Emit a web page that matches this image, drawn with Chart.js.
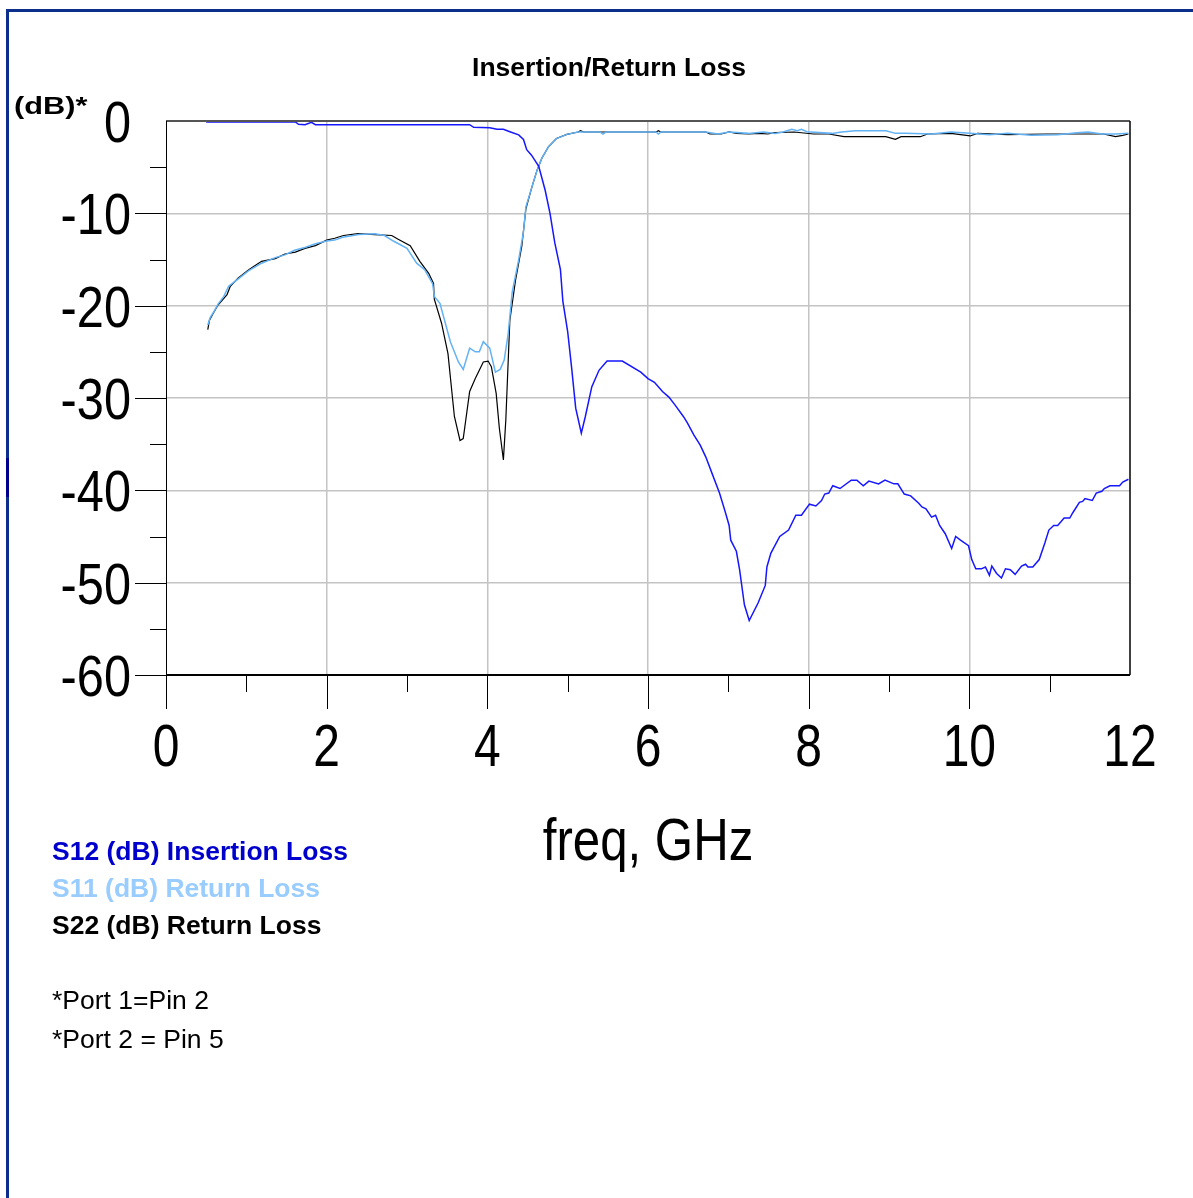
<!DOCTYPE html>
<html lang="en">
<head>
  <meta charset="UTF-8">
  <title>Insertion/Return Loss</title>
  <style>
    body {
      margin: 0;
      background: #fff;
      font-family: "Liberation Sans", Arial, sans-serif;
    }
    #page {
      position: relative;
      width: 1193px;
      height: 1198px;
      overflow: hidden;
    }
    #frame {
      position: absolute;
      left: 6px;
      top: 9px;
      right: -10px;
      bottom: -10px;
      border-left: 3px solid #0c2f8c;
      border-top: 3px solid #0c2f8c;
    }
    #mark {
      position: absolute;
      left: 6px;
      top: 458px;
      width: 3px;
      height: 39px;
      background: #00008f;
    }
    #chartbox {
      position: absolute;
      left: 0;
      top: 0;
      width: 1193px;
      height: 1198px;
    }
    .txt {
      position: absolute;
      font-size: 26.5px;
      line-height: 1;
      white-space: nowrap;
    }
    .b { font-weight: bold; }
  </style>
</head>
<body>
  <div id="page">
    <div id="frame"></div>
    <div id="mark"></div>
    <div id="chartbox"><canvas id="myChart"></canvas></div>
    <div class="txt b" style="left:609px; top:54px; transform:translateX(-50%);">Insertion/Return Loss</div>
    <div class="txt b" style="left:14px; top:94px; font-size:24px; transform:scaleX(1.28); transform-origin:left top;">(dB)*</div>
    <div class="txt b" style="left:52px; top:838px; color:#0000cc;">S12 (dB) Insertion Loss</div>
    <div class="txt b" style="left:52px; top:875px; color:#99ccff;">S11 (dB) Return Loss</div>
    <div class="txt b" style="left:52px; top:912px; color:#000;">S22 (dB) Return Loss</div>
    <div class="txt" style="left:52px; top:987px;">*Port 1=Pin 2</div>
    <div class="txt" style="left:52px; top:1026px;">*Port 2 = Pin 5</div>
  </div>

  <script src="https://cdn.jsdelivr.net/npm/chart.js"></script>
  <script>
// S12 insertion loss (GHz, dB)
const s12Freq = [
  0.50, 1.61, 1.65, 1.73, 1.81, 1.86, 3.78, 3.83, 4.03, 4.12,
  4.20, 4.28, 4.39, 4.45, 4.49, 4.55, 4.64, 4.72, 4.78, 4.84,
  4.91, 4.94, 5.00, 5.05, 5.10, 5.17, 5.22, 5.30, 5.39, 5.49,
  5.68, 5.91, 6.00, 6.08, 6.18, 6.26, 6.34, 6.44, 6.49, 6.57,
  6.65, 6.72, 6.79, 6.89, 6.96, 7.01, 7.03, 7.10, 7.14, 7.20,
  7.26, 7.37, 7.46, 7.48, 7.53, 7.64, 7.75, 7.84, 7.91, 8.01,
  8.09, 8.16, 8.20, 8.25, 8.30, 8.39, 8.53, 8.60, 8.68, 8.75,
  8.87, 8.95, 9.06, 9.11, 9.19, 9.27, 9.37, 9.41, 9.46, 9.53,
  9.58, 9.63, 9.70, 9.78, 9.83, 9.89, 9.99, 10.03, 10.08, 10.15,
  10.20, 10.25, 10.28, 10.34, 10.40, 10.45, 10.51, 10.57, 10.65, 10.70,
  10.73, 10.79, 10.87, 10.94, 10.99, 11.05, 11.10, 11.18, 11.25, 11.29,
  11.37, 11.41, 11.44, 11.53, 11.58, 11.65, 11.68, 11.75, 11.87, 11.91,
  11.98
];
const s12dB = [
  -0.1, -0.1, -0.36, -0.4, -0.15, -0.4, -0.4, -0.68, -0.72, -0.9,
  -0.9, -1.16, -1.5, -2.0, -3.1, -3.7, -4.9, -7.5, -10.0, -13.2,
  -16.1, -19.5, -22.8, -26.8, -31.1, -33.8, -32.0, -28.8, -27.0, -26.0,
  -26.0, -27.2, -27.9, -28.3, -29.3, -29.9, -30.8, -32.0, -32.7, -34.0,
  -35.1, -36.4, -38.0, -40.3, -42.3, -43.8, -45.4, -46.6, -48.6, -52.4,
  -54.1, -52.2, -50.3, -48.3, -46.8, -45.0, -44.3, -42.7, -42.7, -41.5,
  -41.7, -41.1, -40.4, -40.3, -39.5, -39.8, -38.9, -38.9, -39.5, -39.0,
  -39.3, -38.9, -39.3, -39.3, -40.4, -40.6, -41.4, -41.8, -42.0, -42.9,
  -42.7, -43.8, -44.7, -46.3, -45.0, -45.4, -46.0, -47.5, -48.5, -48.5,
  -48.3, -49.2, -48.2, -49.0, -49.5, -48.5, -48.6, -49.1, -48.2, -48.0,
  -48.3, -48.3, -47.5, -45.7, -44.3, -43.8, -43.8, -43.0, -43.0, -42.4,
  -41.3, -41.2, -40.9, -41.1, -40.3, -40.1, -39.8, -39.5, -39.5, -39.1,
  -38.8
];

// S11 return loss
const s11Freq = [
  0.52, 0.55, 0.60, 0.65, 0.72, 0.78, 0.90, 1.03, 1.19, 1.36,
  1.48, 1.60, 1.73, 1.86, 2.00, 2.10, 2.20, 2.40, 2.60, 2.72,
  2.83, 3.00, 3.12, 3.22, 3.32, 3.34, 3.41, 3.54, 3.64, 3.70,
  3.78, 3.85, 3.90, 3.95, 4.03, 4.10, 4.16, 4.21, 4.26, 4.31,
  4.39, 4.45, 4.48, 4.55, 4.62, 4.68, 4.76, 4.86, 4.99, 5.13,
  5.40, 5.44, 5.48, 6.10, 6.13, 6.16, 6.72, 6.87, 7.01, 7.25,
  7.44, 7.58, 7.68, 7.79, 7.86, 7.91, 7.98, 8.29, 8.41, 8.58,
  8.96, 9.08, 9.20, 9.53, 9.77, 10.01, 10.25, 10.48, 10.77, 11.10,
  11.34, 11.48, 11.65, 11.82, 11.98
];
const s11dB = [
  -22.1, -21.3, -20.6, -19.8, -19.0, -17.9, -17.1, -16.2, -15.4, -14.8,
  -14.5, -14.0, -13.7, -13.3, -13.0, -12.9, -12.6, -12.3, -12.2, -12.4,
  -13.0, -13.8, -15.4, -16.1, -17.65, -19.0, -19.75, -23.9, -26.1, -26.9,
  -24.6, -25.0, -25.0, -23.9, -24.6, -27.2, -26.9, -25.9, -23.0, -18.5,
  -15.05, -12.0, -9.3, -7.3, -5.3, -4.0, -2.8, -1.9, -1.45, -1.19,
  -1.19, -1.41, -1.19, -1.19, -1.41, -1.19, -1.19, -1.41, -1.19, -1.34,
  -1.19, -1.34, -1.19, -0.90, -1.05, -0.90, -1.16, -1.34, -1.19, -1.05,
  -1.05, -1.34, -1.34, -1.41, -1.19, -1.34, -1.48, -1.34, -1.55, -1.48,
  -1.26, -1.19, -1.41, -1.41, -1.34
];

// S22 return loss
const s22Freq = [
  0.52, 0.54, 0.59, 0.65, 0.76, 0.80, 0.90, 1.03, 1.19, 1.36,
  1.48, 1.61, 1.73, 1.86, 2.00, 2.10, 2.21, 2.39, 2.60, 2.81,
  2.89, 3.04, 3.16, 3.27, 3.33, 3.34, 3.43, 3.51, 3.59, 3.66,
  3.70, 3.78, 3.85, 3.95, 4.01, 4.05, 4.11, 4.15, 4.20, 4.23,
  4.28, 4.35, 4.43, 4.48, 4.55, 4.62, 4.68, 4.76, 4.86, 4.99,
  5.13, 5.16, 5.20, 6.10, 6.13, 6.16, 6.72, 6.77, 6.91, 7.01,
  7.10, 7.25, 7.39, 7.49, 7.58, 7.82, 8.06, 8.25, 8.44, 8.96,
  9.08, 9.15, 9.39, 9.48, 9.77, 10.01, 10.10, 10.48, 10.96, 11.20,
  11.67, 11.82, 11.91, 11.98
];
const s22dB = [
  -22.6, -21.6, -20.8, -19.9, -18.8, -17.9, -17.0, -16.1, -15.2, -14.9,
  -14.4, -14.2, -13.8, -13.5, -12.9, -12.7, -12.4, -12.2, -12.3, -12.4,
  -12.8, -13.5, -15.2, -16.5, -17.6, -19.3, -21.9, -25.2, -32.0, -34.6,
  -34.4, -29.3, -27.9, -26.1, -26.0, -26.6, -29.5, -33.3, -36.7, -32.4,
  -21.6, -17.3, -13.5, -9.5, -7.3, -5.3, -4.0, -2.8, -1.9, -1.45,
  -1.19, -1.05, -1.19, -1.19, -1.05, -1.19, -1.19, -1.41, -1.41, -1.19,
  -1.34, -1.41, -1.34, -1.41, -1.26, -1.19, -1.41, -1.41, -1.70, -1.70,
  -1.99, -1.70, -1.70, -1.41, -1.34, -1.62, -1.34, -1.48, -1.41, -1.41,
  -1.41, -1.70, -1.55, -1.41
];

const seriesNames = ['S12 (dB) Insertion Loss', 'S11 (dB) Return Loss', 'S22 (dB) Return Loss'];
const xTitle = 'freq, GHz';

const labelFont = '"Liberation Sans", Arial, sans-serif';

function toPoints(freq, vals) {
  return freq.map((f, i) => ({ x: f, y: vals[i] }));
}

// ticks (major with label, minor without) and the plot box
const axisFrame = {
  id: 'axisFrame',
  afterDatasetsDraw(chart) {
    const { ctx, chartArea: a, scales: { x, y } } = chart;
    ctx.save();
    ctx.strokeStyle = '#000';
    ctx.lineWidth = 1;
    for (let v = 0; v <= 11; v++) {
      const px = Math.round(x.getPixelForValue(v)) + 0.5;
      const len = v % 2 === 0 ? 34 : 17;
      ctx.beginPath();
      ctx.moveTo(px, a.bottom);
      ctx.lineTo(px, a.bottom + len);
      ctx.stroke();
    }
    for (let v = -60; v <= -5; v += 5) {
      const py = Math.round(y.getPixelForValue(v)) + 0.5;
      const len = v % 10 === 0 ? 31 : 16;
      ctx.beginPath();
      ctx.moveTo(a.left - len, py);
      ctx.lineTo(a.left, py);
      ctx.stroke();
    }
    // box
    ctx.strokeStyle = '#555';
    ctx.lineWidth = 2;
    ctx.beginPath();
    ctx.moveTo(a.left, a.top);
    ctx.lineTo(a.right, a.top);
    ctx.stroke();
    ctx.strokeStyle = '#000';
    ctx.lineWidth = 1.5;
    ctx.beginPath();
    ctx.moveTo(a.right, a.top);
    ctx.lineTo(a.right, a.bottom);
    ctx.stroke();
    ctx.lineWidth = 1;
    ctx.beginPath();
    ctx.moveTo(Math.round(a.left) + 0.5, a.top);
    ctx.lineTo(Math.round(a.left) + 0.5, a.bottom);
    ctx.stroke();
    ctx.lineWidth = 2;
    ctx.beginPath();
    ctx.moveTo(a.left, a.bottom);
    ctx.lineTo(a.right, a.bottom);
    ctx.stroke();
    ctx.restore();
  }
};

// tall, narrow axis numbers and the x title
const axisLabels = {
  id: 'axisLabels',
  afterDraw(chart) {
    const { ctx, chartArea: a, scales: { x, y } } = chart;
    ctx.save();
    ctx.fillStyle = '#000';
    ctx.textBaseline = 'alphabetic';

    ctx.textAlign = 'center';
    ctx.font = '60px ' + labelFont;
    x.ticks.forEach(t => {
      ctx.save();
      ctx.translate(x.getPixelForValue(t.value), a.bottom + 91);
      ctx.scale(0.8, 1);
      ctx.fillText(String(t.value), 0, 0);
      ctx.restore();
    });

    ctx.textAlign = 'right';
    ctx.font = '58px ' + labelFont;
    y.ticks.forEach(t => {
      ctx.save();
      ctx.translate(131, y.getPixelForValue(t.value) + 21);
      ctx.scale(0.84, 1);
      ctx.fillText(String(t.value), 0, 0);
      ctx.restore();
    });

    ctx.textAlign = 'center';
    ctx.font = '60px ' + labelFont;
    ctx.translate((a.left + a.right) / 2, 860);
    ctx.scale(0.82, 1);
    ctx.fillText(xTitle, 0, 0);
    ctx.restore();
  }
};

let chart;

function drawChart() {
  const ctx = document.getElementById('myChart').getContext('2d');
  if (chart) {
    chart.destroy();
  }

  chart = new Chart(ctx, {
    type: 'line',
    data: {
      datasets: [
        { label: seriesNames[0], data: toPoints(s12Freq, s12dB), borderColor: '#1616ff', borderWidth: 1.5 },
        { label: seriesNames[1], data: toPoints(s11Freq, s11dB), borderColor: '#62b2f6', borderWidth: 1.5 },
        { label: seriesNames[2], data: toPoints(s22Freq, s22dB), borderColor: '#000000', borderWidth: 1.2 },
      ].map(d => Object.assign(d, { fill: false, pointRadius: 0, tension: 0 })),
    },
    options: {
      responsive: true,
      maintainAspectRatio: false,
      animation: false,
      devicePixelRatio: 1,
      layout: {
        padding: { left: 0, right: 63, top: 121, bottom: 323 }
      },
      plugins: {
        legend: { display: false },
        title: { display: false },
        tooltip: { enabled: false }
      },
      scales: {
        x: {
          type: 'linear',
          min: 0,
          max: 12,
          afterFit: s => { s.height = 200; },
          border: { display: false },
          grid: {
            drawTicks: false,
            color: c => (c.tick && (c.tick.value === 0 || c.tick.value === 12)) ? 'rgba(0,0,0,0)' : '#c4c4c4',
            lineWidth: 1.5
          },
          ticks: {
            display: false,
            stepSize: 2,
            autoSkip: false
          }
        },
        y: {
          min: -60,
          max: 0,
          afterFit: s => { s.width = 166; },
          border: { display: false },
          grid: {
            drawTicks: false,
            color: c => (c.tick && (c.tick.value === 0 || c.tick.value === -60)) ? 'rgba(0,0,0,0)' : '#c4c4c4',
            lineWidth: 1.5
          },
          ticks: {
            display: false,
            stepSize: 10
          }
        }
      }
    },
    plugins: [axisFrame, axisLabels]
  });
}

drawChart();
  </script>
</body>
</html>
